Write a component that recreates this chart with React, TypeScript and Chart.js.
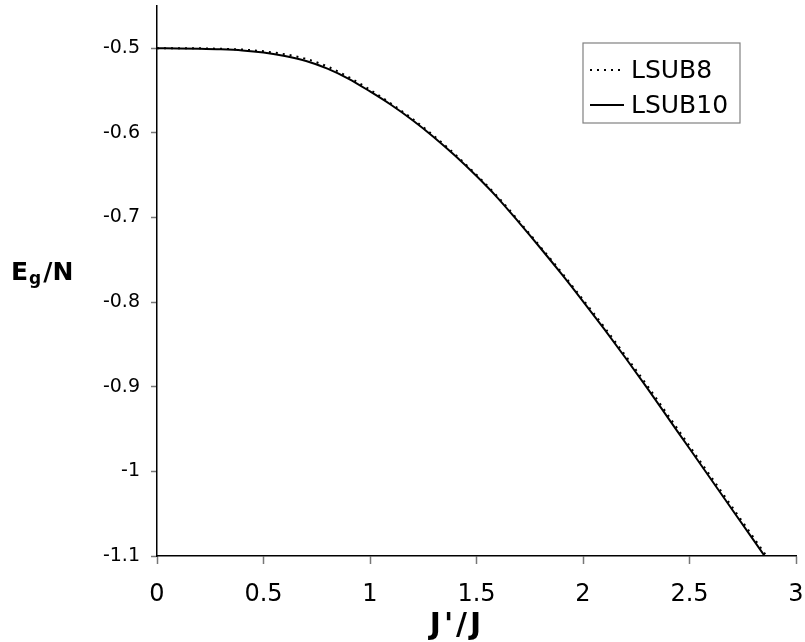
import React, { useEffect, useRef } from "react";
import { Chart, registerables } from "chart.js";

Chart.register(...registerables);

const xValues = [0, 0.1, 0.2, 0.3, 0.4, 0.5, 0.6, 0.7, 0.8, 0.9, 1.0, 1.1, 1.2, 1.3, 1.4, 1.5, 1.6, 1.7, 1.8, 1.9, 2.0, 2.1, 2.2, 2.3, 2.4, 2.5, 2.6, 2.7, 2.8, 2.9];
const lsub8 = [-0.4998, -0.4998, -0.5, -0.5006, -0.5015, -0.5035, -0.507, -0.5125, -0.5215, -0.534, -0.549, -0.5655, -0.5835, -0.6035, -0.6255, -0.6495, -0.6755, -0.7045, -0.7345, -0.765, -0.797, -0.8295, -0.8635, -0.898, -0.934, -0.97, -1.006, -1.042, -1.078, -1.114];
const lsub10 = [-0.5, -0.5001, -0.5005, -0.5012, -0.5025, -0.505, -0.509, -0.515, -0.524, -0.536, -0.551, -0.567, -0.585, -0.605, -0.627, -0.651, -0.677, -0.706, -0.736, -0.767, -0.799, -0.832, -0.866, -0.901, -0.937, -0.973, -1.009, -1.045, -1.081, -1.117];
const seriesLabels = ["LSUB8", "LSUB10"];
const xTicks = [0, 0.5, 1, 1.5, 2, 2.5, 3];
const yTicks = [-1.1, -1.0, -0.9, -0.8, -0.7, -0.6, -0.5];
const xTitle = "J'/J";
const yTitleMain = "E";
const yTitleSub = "g";
const yTitleRest = "/N";

const FONT = "'DejaVu Sans', Verdana, sans-serif";

const fmt = (v: number) => String(Number(v.toFixed(2)));

const legendPlugin = {
  id: "boxLegend",
  afterDraw(chart: any) {
    const ctx = chart.ctx;
    ctx.save();
    const left = 583, top = 43, right = 740, bottom = 123;
    ctx.strokeStyle = "#808080";
    ctx.lineWidth = 1.2;
    ctx.strokeRect(left, top, right - left, bottom - top);
    const rows = [70, 105];
    chart.data.datasets.forEach((ds: any, i: number) => {
      const y = rows[i];
      ctx.beginPath();
      ctx.strokeStyle = "#000";
      ctx.lineWidth = ds.borderWidth;
      ctx.setLineDash(ds.borderDash || []);
      ctx.moveTo(590, y);
      ctx.lineTo(624, y);
      ctx.stroke();
      ctx.setLineDash([]);
      ctx.fillStyle = "#000";
      ctx.font = `25px ${FONT}`;
      ctx.textBaseline = "middle";
      ctx.textAlign = "left";
      ctx.fillText(ds.label, 631, y + 1);
    });
    ctx.restore();
  },
};

const titlesPlugin = {
  id: "titles",
  afterDraw(chart: any) {
    const ctx = chart.ctx;
    ctx.save();
    ctx.fillStyle = "#000";
    ctx.textBaseline = "alphabetic";
    ctx.textAlign = "left";
    // y title with subscript
    let x = 11;
    const base = 280;
    ctx.font = `bold 25px ${FONT}`;
    ctx.fillText(yTitleMain, x, base);
    x += ctx.measureText(yTitleMain).width + 1;
    ctx.font = `bold 17px ${FONT}`;
    ctx.fillText(yTitleSub, x, base + 4);
    x += ctx.measureText(yTitleSub).width + 2;
    ctx.font = `bold 25px ${FONT}`;
    ctx.fillText(yTitleRest, x, base);
    // x title
    ctx.font = `bold 30px ${FONT}`;
    try { (ctx as any).letterSpacing = "3px"; } catch (e) {}
    const w = ctx.measureText(xTitle).width;
    ctx.fillText(xTitle, 456 - w / 2 + 1, 634);
    try { (ctx as any).letterSpacing = "0px"; } catch (e) {}
    ctx.restore();
  },
};

export default function App() {
  const ref = useRef<HTMLCanvasElement>(null);
  useEffect(() => {
    if (!ref.current) return;
    const chart = new Chart(ref.current, {
      type: "line",
      data: {
        datasets: [
          {
            label: seriesLabels[0],
            data: xValues.map((x, i) => ({ x, y: lsub8[i] })),
            borderColor: "#000",
            borderWidth: 2,
            borderDash: [2, 5],
            pointRadius: 0,
            cubicInterpolationMode: "monotone",
            fill: false,
          },
          {
            label: seriesLabels[1],
            data: xValues.map((x, i) => ({ x, y: lsub10[i] })),
            borderColor: "#000",
            borderWidth: 2,
            pointRadius: 0,
            cubicInterpolationMode: "monotone",
            fill: false,
          },
        ],
      },
      options: {
        animation: false,
        responsive: true,
        maintainAspectRatio: false,
        layout: { padding: { top: 6, right: 9, left: 0, bottom: 0 } },
        plugins: { legend: { display: false }, tooltip: { enabled: false } },
        scales: {
          x: {
            type: "linear",
            min: 0,
            max: 3,
            afterBuildTicks: (s: any) => {
              s.ticks = xTicks.map((v) => ({ value: v }));
            },
            afterFit: (s: any) => {
              s.height = 86;
              s.paddingLeft = 0;
              s.paddingRight = 0;
            },
            border: { display: true, color: "#000", width: 1.5 },
            grid: { display: true, drawOnChartArea: false, drawTicks: true, tickLength: 8, color: "#777", tickWidth: 1.5 },
            ticks: {
              color: "#000",
              font: { family: FONT, size: 24 },
              padding: 16,
              maxRotation: 0,
              autoSkip: false,
              callback: (v: any) => fmt(Number(v)),
            },
            title: { display: false },
          },
          y: {
            type: "linear",
            min: -1.1,
            max: -0.45,
            afterBuildTicks: (s: any) => {
              s.ticks = yTicks.map((v) => ({ value: v }));
            },
            afterFit: (s: any) => {
              s.width = 157;
              s.paddingTop = 0;
              s.paddingBottom = 0;
            },
            border: { display: true, color: "#000", width: 1.5 },
            grid: { display: true, drawOnChartArea: false, drawTicks: true, tickLength: 6, color: "#777", tickWidth: 1.5 },
            ticks: {
              color: "#000",
              font: { family: FONT, size: 19 },
              padding: 11,
              autoSkip: false,
              callback: (v: any) => fmt(Number(v)),
            },
          },
        },
      },
      plugins: [legendPlugin, titlesPlugin],
    } as any);
    return () => chart.destroy();
  }, []);
  return (
    <div style={{ position: "fixed", left: 0, top: 0, width: 805, height: 642, background: "#fff" }}>
      <canvas ref={ref} />
    </div>
  );
}
